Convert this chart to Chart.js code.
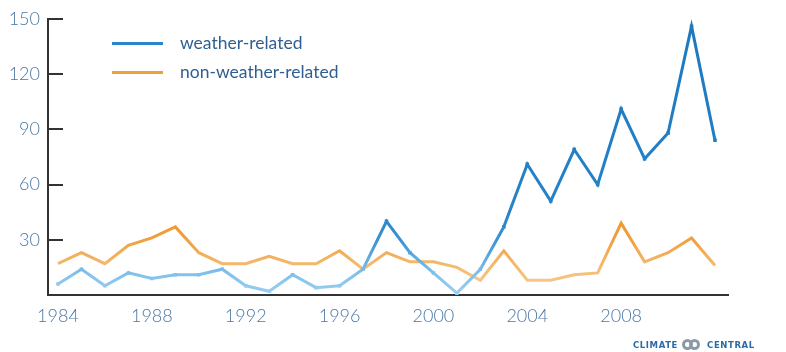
<!DOCTYPE html>
<html>
<head>
<meta charset="utf-8">
<script src="https://cdn.jsdelivr.net/npm/chart.js@4.4.1/dist/chart.umd.min.js"></script>
<style>
  html, body { margin: 0; padding: 0; background: #fff; }
  #wrap { position: relative; width: 786px; height: 352px; }
  .key { position: absolute; left: 112px; width: 51px; height: 3px; }
  .key-label { position: absolute; left: 180px; font: 17.5px Lato, "Open Sans", sans-serif; color: #2f5f92; }
  #logo { position: absolute; left: 633px; top: 340px; font: bold 8.5px "DejaVu Sans", sans-serif; color: #2c6aa6; letter-spacing: 0.6px; white-space: nowrap; }
  #logo .ring { display: inline-block; width: 11px; height: 11px; border: 3px solid #8a9aa8; border-radius: 50%; vertical-align: middle; margin: -3px -4px 0 0; box-sizing: border-box; }
</style>
</head>
<body>
<div id="wrap">
  <canvas id="chart" width="786" height="352"></canvas>
  <div class="key" style="top:42px;background:#2a86cc"></div>
  <div class="key-label" style="top:32px">weather-related</div>
  <div class="key" style="top:71px;background:#f0a03a"></div>
  <div class="key-label" style="top:61px">non-weather-related</div>
  <div id="logo">CLIMATE <span class="ring"></span><span class="ring" style="margin-right:4px"></span> CENTRAL</div>
</div>
<script>
// valori
const years = [1984, 1985, 1986, 1987, 1988, 1989, 1990, 1991, 1992, 1993, 1994, 1995, 1996, 1997, 1998,
               1999, 2000, 2001, 2002, 2003, 2004, 2005, 2006, 2007, 2008, 2009, 2010, 2011, 2012];
const weatherRelated = [6, 14, 5, 12, 9, 11, 11, 14, 5, 2, 11, 4, 5, 14, 40,
                        23, 12, 1, 14, 37, 71, 51, 79, 60, 101, 74, 88, 146, 84];
const nonWeatherRelated = [17, 23, 17, 27, 31, 37, 23, 17, 17, 21, 17, 17, 24, 14, 23,
                           18, 18, 15, 8, 24, 8, 8, 11, 12, 39, 18, 23, 31, 16];
const xTickYears = [1984, 1988, 1992, 1996, 2000, 2004, 2008];
const yTickValues = [0, 30, 60, 90, 120, 150];

const tickColor = '#4b77a6';

// sfumatura verticale: piu chiaro vicino allo zero
function verticalGradient(stops) {
    return function(ctx) {
        const chart = ctx.chart;
        const area = chart.chartArea;
        if (!area) return stops[stops.length - 1][1];
        const g = chart.ctx.createLinearGradient(0, area.bottom, 0, area.top);
        stops.forEach(function(s) { g.addColorStop(s[0], s[1]); });
        return g;
    };
}

const blueGrad = verticalGradient([[0, '#9dd0f0'], [0.08, '#7fc0ec'], [0.2, '#3a92d4'], [0.3, '#2583c9'], [1, '#1d78be']]);
const orangeGrad = verticalGradient([[0, '#f8cf98'], [0.1, '#f5bb72'], [0.2, '#f0a040'], [0.3, '#ee9524'], [1, '#ee9020']]);

// tacche verso l'interno sull'asse y (rettangoli pieni)
const innerTicks = {
    id: 'innerTicks',
    afterDraw(ch) {
        const yScale = ch.scales.y;
        const c = ch.ctx;
        const left = Math.round(ch.chartArea.left) - 1;
        c.save();
        c.globalAlpha = 1;
        c.setLineDash([]);
        c.fillStyle = '#333333';
        yTickValues.forEach(function(v) {
            if (v === 0) return;
            const py = Math.round(yScale.getPixelForValue(v));
            c.fillRect(left, py - 1, 16, 2);
        });
        c.restore();
    }
};

new Chart(document.getElementById('chart'), {
    type: 'line',
    data: {
        datasets: [{
            label: 'weather-related',
            data: years.map((yr, i) => ({ x: yr, y: weatherRelated[i] })),
            borderColor: blueGrad,
            backgroundColor: blueGrad,
            borderWidth: 3,
            pointStyle: 'rect',
            pointRadius: 2.5,
            pointBorderWidth: 0,
            tension: 0
        }, {
            label: 'non-weather-related',
            data: years.map((yr, i) => ({ x: yr, y: nonWeatherRelated[i] })),
            borderColor: orangeGrad,
            borderWidth: 3,
            pointRadius: 0,
            tension: 0
        }]
    },
    options: {
        responsive: false,
        animation: false,
        layout: { padding: { left: 0, right: 58, top: 15.2, bottom: 0 } },
        plugins: {
            legend: { display: false },
            tooltip: { enabled: false }
        },
        scales: {
            x: {
                type: 'linear',
                min: 1983.574,
                max: 2012.554,
                afterBuildTicks: function(scale) {
                    scale.ticks = xTickYears.map(v => ({ value: v }));
                },
                afterFit: function(scale) { scale.height = 57; },
                grid: { drawOnChartArea: false, drawTicks: false },
                border: { color: '#333', width: 2 },
                ticks: {
                    color: tickColor,
                    padding: 10,
                    maxRotation: 0,
                    font: { family: 'Lato, "Open Sans", sans-serif', size: 18, weight: 300 },
                    callback: v => String(v)
                }
            },
            y: {
                min: 0,
                max: 150,
                afterBuildTicks: function(scale) {
                    scale.ticks = yTickValues.map(v => ({ value: v }));
                },
                afterFit: function(scale) { scale.width = 48; },
                grid: { drawOnChartArea: false, drawTicks: false },
                border: { color: '#333', width: 2 },
                ticks: {
                    color: tickColor,
                    padding: 8,
                    font: { family: 'Lato, "Open Sans", sans-serif', size: 18, weight: 300 },
                    callback: v => (v === 0 ? '' : String(v))
                }
            }
        }
    },
    plugins: [innerTicks]
});
</script>
</body>
</html>
